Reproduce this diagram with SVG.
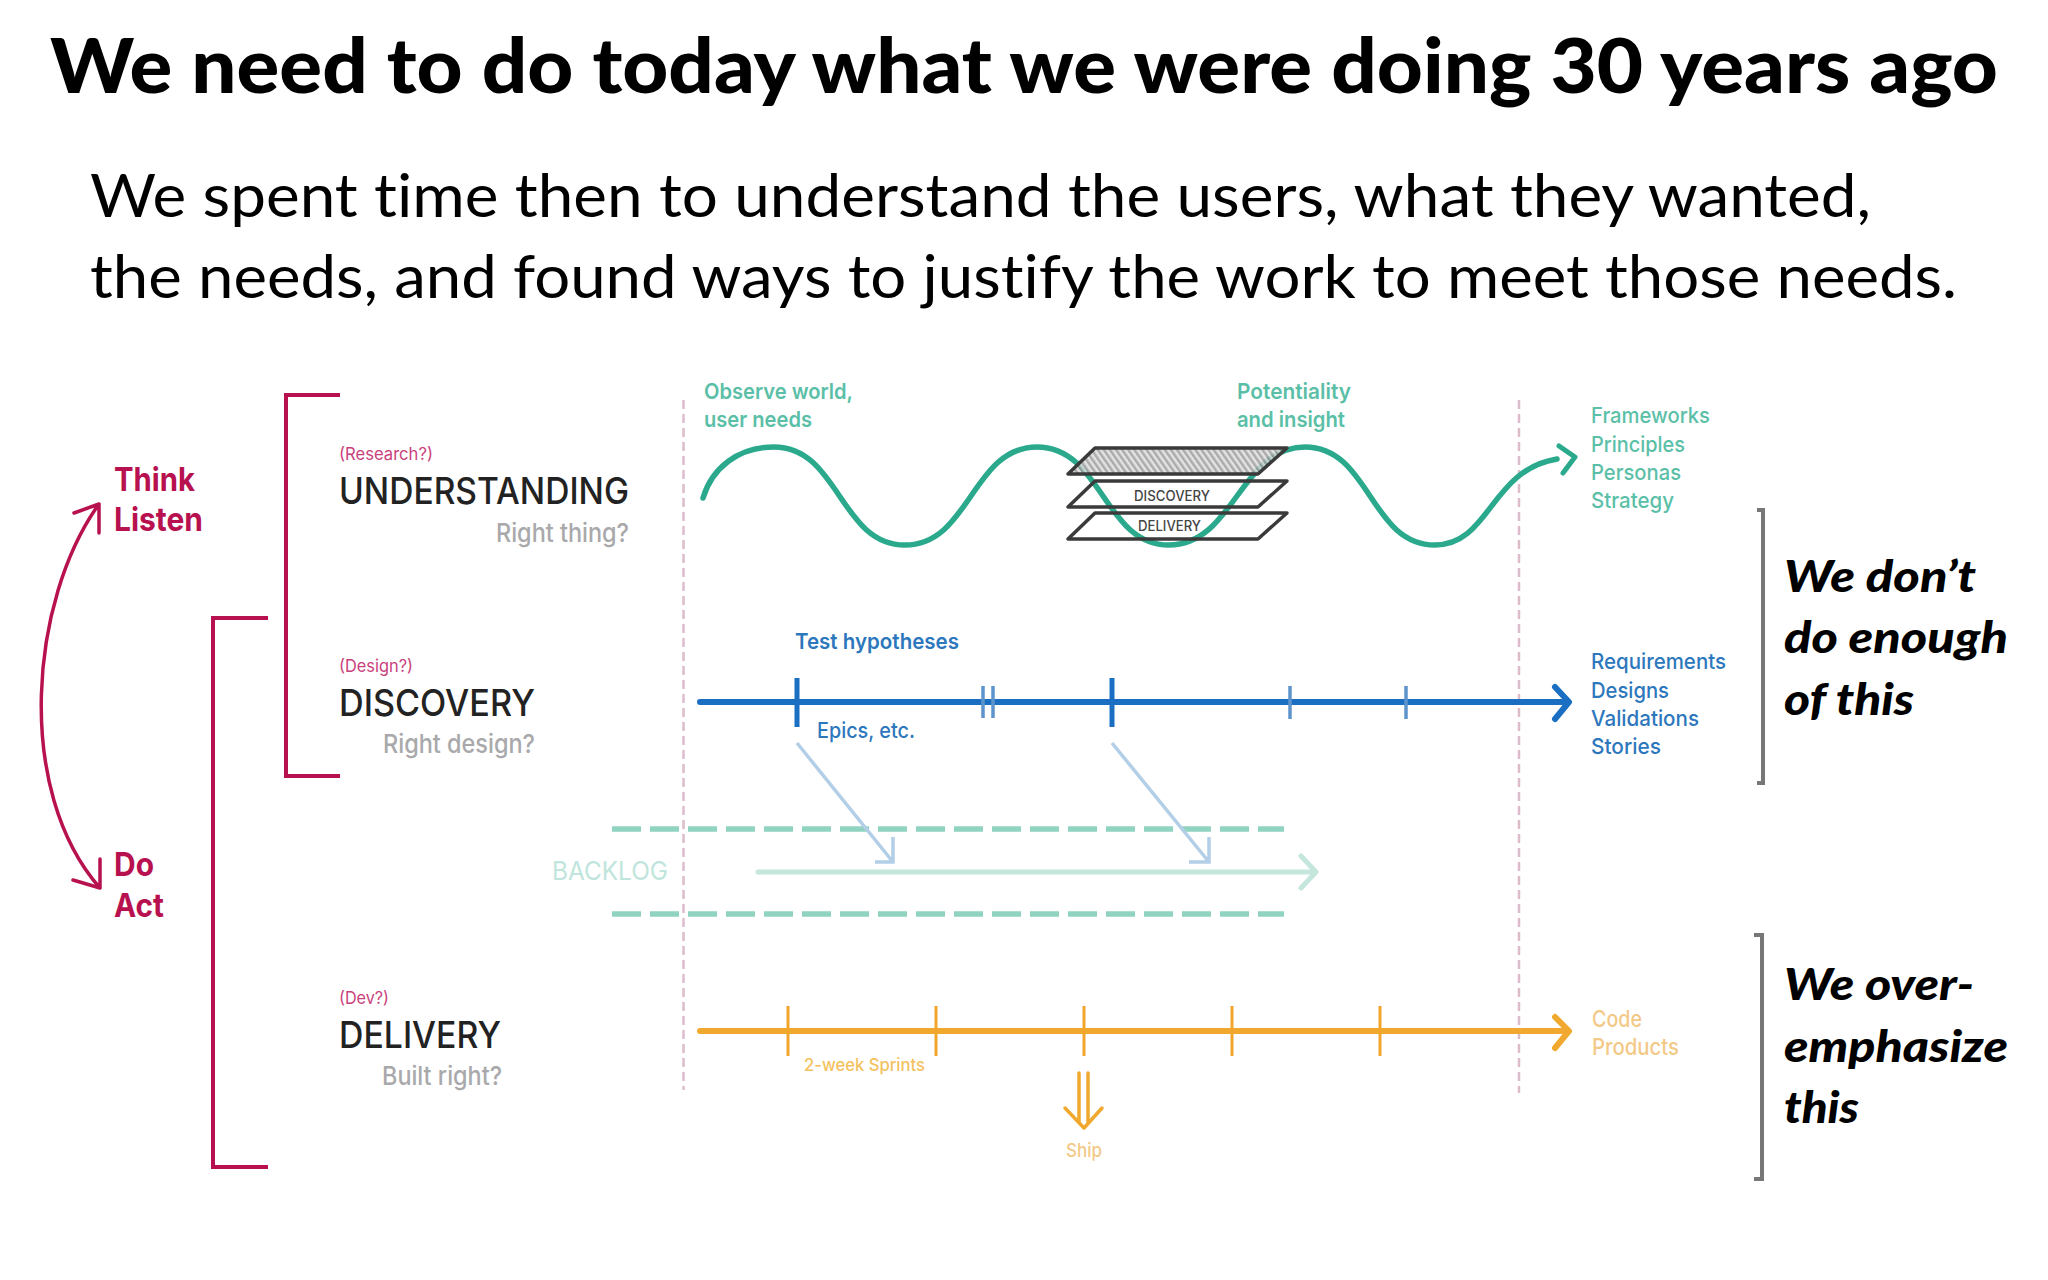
<svg xmlns="http://www.w3.org/2000/svg" width="2048" height="1280" viewBox="0 0 2048 1280">
<style>
text{font-family:"Inter","Liberation Sans",sans-serif}
.title{font-family:"Lato","Open Sans",sans-serif;font-weight:900;font-size:76px;fill:#000;font-variant-ligatures:none}
.sub{font-family:"Lato","Open Sans",sans-serif;font-size:60px;fill:#000;font-variant-ligatures:none}
.note{font-family:"Lato","Open Sans",sans-serif;font-weight:900;font-style:italic;font-size:44px;fill:#000;font-variant-ligatures:none}
.pink{fill:#b8114f;font-weight:700;font-size:33px}
.tag{fill:#c9417c;font-size:17px}
.head{fill:#222;font-size:37px;font-weight:500}
.ask{fill:#a9a9ab;font-size:26px;font-weight:500}
.teal{fill:#5bbfa8;font-size:22px;font-weight:600}
.blue{fill:#2d77bd;font-size:22px;font-weight:600}
.org{fill:#f3c987;font-size:23px;font-weight:500}
.pl{fill:#444;font-size:14px;font-weight:500}
.l{fill:none;stroke-linecap:round;stroke-linejoin:round}
.br{fill:none;stroke:#b8114f;stroke-width:4}
.gb{fill:none;stroke:#777;stroke-width:4}
.v{stroke:#dcbccb;stroke-width:2.5;stroke-dasharray:9 5;fill:none}
.bt{stroke:#1b6fc2;fill:none}
.ot{stroke:#f2a52a;stroke-width:3;fill:none}
.dash{stroke:#8fd3c0;stroke-width:5.5;stroke-dasharray:29 9;fill:none}
.diag{stroke:#b3cfe8;stroke-width:3.5;fill:none}
.plane{fill:none;stroke:#3a3a3a;stroke-width:3.5;stroke-linejoin:round}
</style>
<defs>
<pattern id="hatch" width="5" height="5" patternUnits="userSpaceOnUse" patternTransform="rotate(-35)">
<rect width="5" height="5" fill="#dedede"/><rect width="2.5" height="5" fill="#9c9c9c"/>
</pattern>
</defs>
<rect width="2048" height="1280" fill="#fff"/>

<g id="heading">
<text class="title" x="50" y="93" textLength="1948" lengthAdjust="spacingAndGlyphs">We need to do today what we were doing 30 years ago</text>
<text class="sub" x="90" y="217" textLength="1781" lengthAdjust="spacingAndGlyphs">We spent time then to understand the users, what they wanted,</text>
<text class="sub" x="90" y="298" textLength="1867" lengthAdjust="spacingAndGlyphs">the needs, and found ways to justify the work to meet those needs.</text>
</g>

<g id="connectors">
<path class="l" stroke="#b8114f" stroke-width="3.5" d="M99,504C30,600 14,790 100,888M74,513L99,504L99,533M73,880L100,888L100,859"/>
<path class="br" d="M340,395H286V776H340"/>
<path class="br" d="M268,618H213V1167H268"/>
<path class="v" d="M683.500,400V1090"/>
<path class="v" d="M1519,400V1093"/>
<path class="l" stroke="#2aa98c" stroke-width="5.500" d="M703,498C712,468 738,447 774,447C839,447 840,545 905,545C970,545 972,447 1037,447C1102,447 1104,545 1169,545C1234,545 1240,447 1305,447C1370,447 1370,545 1435,545C1490,545 1490,470 1557,459"/>
<path class="l" stroke="#2aa98c" stroke-width="5" d="M1559,446L1575,457L1563,473"/>
<g class="disc">
<path class="l" stroke="#1b6fc2" stroke-width="6" d="M700,702H1566M1555,687L1569,702L1555,719"/>
<path class="bt" stroke-width="5" d="M797,678V727M1112,678V727"/>
<path d="M983,686V718M993,686V718M1290,686V719M1406,686V719" fill="none" stroke="#5d94cc" stroke-width="3.500"/>
</g>
<path class="dash" d="M612,829H1284"/>
<path class="dash" d="M612,914H1284"/>
<path class="l" stroke="#c4e6dd" stroke-width="5" d="M758,872H1314M1301,856L1316,872L1301,888"/>
<path class="diag" d="M797,743L893,862M893,837V862H875"/>
<path class="diag" d="M1112,743L1209,862M1209,837V862H1189"/>
<path class="l" stroke="#f0a92e" stroke-width="6" d="M700,1031H1566M1555,1017L1569,1031L1555,1048"/>
<path class="ot" d="M788,1006V1056M936,1006V1056M1084,1006V1056M1232,1006V1056M1380,1006V1056"/>
<path class="l" stroke="#f0a92e" stroke-width="3.500" d="M1079,1073V1122M1088,1073V1122M1065,1108L1084,1128L1102,1108"/>
<path class="gb" d="M1757,510H1763V783H1757"/>
<path class="gb" d="M1754,935H1762V1179H1754"/>
</g>

<g id="loop-labels">
<text class="pink" x="114" y="491" textLength="81" lengthAdjust="spacingAndGlyphs">Think</text>
<text class="pink" x="114" y="531" textLength="89" lengthAdjust="spacingAndGlyphs">Listen</text>
<text class="pink" x="114" y="876" textLength="40" lengthAdjust="spacingAndGlyphs">Do</text>
<text class="pink" x="114" y="917" textLength="50" lengthAdjust="spacingAndGlyphs">Act</text>
</g>

<g id="understanding">
<text class="tag" x="339" y="460" textLength="94" lengthAdjust="spacingAndGlyphs">(Research?)</text>
<text class="head" x="339" y="504" textLength="290" lengthAdjust="spacingAndGlyphs">UNDERSTANDING</text>
<text class="ask" x="496" y="542" textLength="133" lengthAdjust="spacingAndGlyphs">Right thing?</text>
</g>
<g id="discovery">
<text class="tag" x="339" y="672" textLength="74" lengthAdjust="spacingAndGlyphs">(Design?)</text>
<text class="head" x="339" y="716" textLength="196" lengthAdjust="spacingAndGlyphs">DISCOVERY</text>
<text class="ask" x="383" y="753" textLength="152" lengthAdjust="spacingAndGlyphs">Right design?</text>
</g>
<g id="delivery">
<text class="tag" x="339" y="1004" textLength="50" lengthAdjust="spacingAndGlyphs">(Dev?)</text>
<text class="head" x="339" y="1048" textLength="162" lengthAdjust="spacingAndGlyphs">DELIVERY</text>
<text class="ask" x="382" y="1085" textLength="120" lengthAdjust="spacingAndGlyphs">Built right?</text>
</g>

<g id="wave-labels">
<text class="teal" x="704" y="399" textLength="149" lengthAdjust="spacingAndGlyphs">Observe world,</text>
<text class="teal" x="704" y="427" textLength="108" lengthAdjust="spacingAndGlyphs">user needs</text>
<text class="teal" x="1237" y="399" textLength="114" lengthAdjust="spacingAndGlyphs">Potentiality</text>
<text class="teal" x="1237" y="427" textLength="108" lengthAdjust="spacingAndGlyphs">and insight</text>
</g>

<g id="planes">
<path d="M1095,448H1287L1258,474H1068Z" fill="url(#hatch)" fill-opacity=".85"/>
<path class="plane" d="M1095,448H1287L1258,474H1068Z"/>
<path class="plane" d="M1095,481H1287L1258,507H1068Z"/>
<path class="plane" d="M1095,513H1287L1258,539H1068Z"/>
<text class="pl" x="1134" y="501" textLength="76" lengthAdjust="spacingAndGlyphs">DISCOVERY</text>
<text class="pl" x="1138" y="531" textLength="63" lengthAdjust="spacingAndGlyphs">DELIVERY</text>
</g>

<g id="outputs-understanding">
<text class="teal" style="font-weight:500" x="1591" y="423" textLength="119" lengthAdjust="spacingAndGlyphs">Frameworks</text>
<text class="teal" style="font-weight:500" x="1591" y="452" textLength="94" lengthAdjust="spacingAndGlyphs">Principles</text>
<text class="teal" style="font-weight:500" x="1591" y="480" textLength="90" lengthAdjust="spacingAndGlyphs">Personas</text>
<text class="teal" style="font-weight:500" x="1591" y="508" textLength="83" lengthAdjust="spacingAndGlyphs">Strategy</text>
</g>

<g id="discovery-labels">
<text class="blue" x="795" y="649" textLength="164" lengthAdjust="spacingAndGlyphs">Test hypotheses</text>
<text class="blue" style="font-weight:500" x="817" y="738" textLength="98" lengthAdjust="spacingAndGlyphs">Epics, etc.</text>
<text class="blue" style="font-weight:500" x="1591" y="669" textLength="135" lengthAdjust="spacingAndGlyphs">Requirements</text>
<text class="blue" style="font-weight:500" x="1591" y="698" textLength="78" lengthAdjust="spacingAndGlyphs">Designs</text>
<text class="blue" style="font-weight:500" x="1591" y="726" textLength="108" lengthAdjust="spacingAndGlyphs">Validations</text>
<text class="blue" style="font-weight:500" x="1591" y="754" textLength="70" lengthAdjust="spacingAndGlyphs">Stories</text>
</g>

<g id="backlog">
<text x="552" y="880" fill="#bfe5dc" font-size="26" textLength="116" lengthAdjust="spacingAndGlyphs">BACKLOG</text>
</g>

<g id="delivery-labels">
<text x="804" y="1071" fill="#f3c25f" font-size="17" font-weight="500" textLength="121" lengthAdjust="spacingAndGlyphs">2-week Sprints</text>
<text x="1066" y="1157" fill="#f3c987" font-size="19" font-weight="500" textLength="36" lengthAdjust="spacingAndGlyphs">Ship</text>
<text class="org" x="1592" y="1027" textLength="50" lengthAdjust="spacingAndGlyphs">Code</text>
<text class="org" x="1592" y="1055" textLength="87" lengthAdjust="spacingAndGlyphs">Products</text>
</g>

<g id="notes">
<text class="note" x="1784" y="592" textLength="192" lengthAdjust="spacingAndGlyphs">We don’t</text>
<text class="note" x="1784" y="653" textLength="224" lengthAdjust="spacingAndGlyphs">do enough</text>
<text class="note" x="1784" y="715" textLength="130" lengthAdjust="spacingAndGlyphs">of this</text>
<text class="note" x="1784" y="1000" textLength="190" lengthAdjust="spacingAndGlyphs">We over-</text>
<text class="note" x="1784" y="1062" textLength="224" lengthAdjust="spacingAndGlyphs">emphasize</text>
<text class="note" x="1784" y="1123" textLength="75" lengthAdjust="spacingAndGlyphs">this</text>
</g>
</svg>
